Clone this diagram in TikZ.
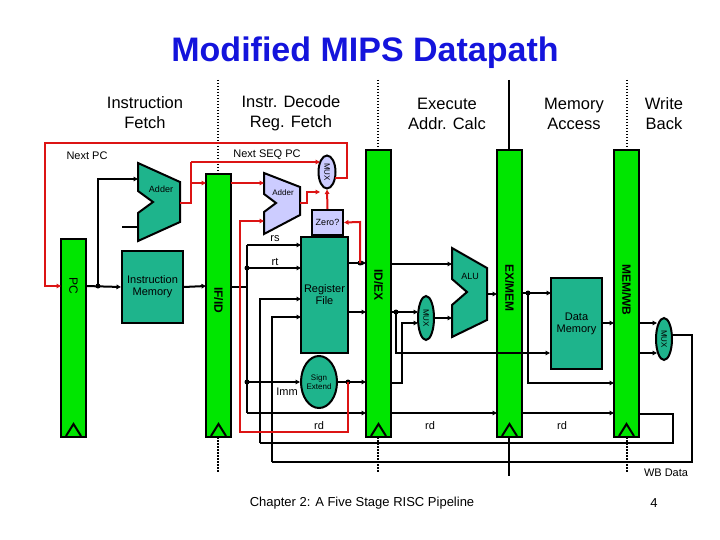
\documentclass[tikz,border=0pt]{standalone}
\usepackage{fontspec}
\setmainfont{Liberation Sans}
\usetikzlibrary{shapes.geometric,arrows.meta}
\definecolor{reg}{RGB}{0,230,0}
\definecolor{teal}{RGB}{30,180,140}
\definecolor{lav}{RGB}{204,204,255}
\definecolor{ttl}{RGB}{20,20,220}
\definecolor{rd}{RGB}{220,20,20}
\begin{document}
\begin{tikzpicture}[x=1pt,y=-1pt,
  w/.style={line width=2pt,black},
  r/.style={line width=2pt,rd},
  a/.style={-{Triangle[length=4.5pt,width=4.5pt]}},
  pr/.style={draw,line width=2pt,fill=reg},
  box/.style={draw,line width=2pt,fill=teal,inner sep=0pt,font=\fontsize{11}{12}\selectfont,align=center},
  mux/.style={ellipse,draw,line width=2pt,inner sep=0pt,font=\fontsize{8}{9}\selectfont},
  lbl/.style={font=\fontsize{11}{12}\selectfont,inner sep=0pt},
  stage/.style={font=\fontsize{16.5}{20}\selectfont,align=center},
  dots/.style={line width=2pt,dash pattern=on 1.5pt off 1.5pt}]
\useasboundingbox (0,0) rectangle (720,540);
\node[font=\bfseries\fontsize{34}{38}\selectfont,text=ttl] (title) at (365,53) {Modified MIPS Datapath};
\node[stage] (s1) at (145,113) {Instruction\\Fetch};
\node[stage] (s2) at (291,113) {Instr. Decode\\Reg. Fetch};
\node[stage] (s3) at (447,114) {Execute\\Addr. Calc};
\node[stage] (s4) at (574,114) {Memory\\Access};
\node[stage] (s5) at (664,114) {Write\\Back};
% stage separators
\draw[dots] (218,80) -- (218,472);
\draw[dots] (378,80) -- (378,472);
\draw[line width=2pt] (509,80) -- (509,476);
\draw[dots] (627,80) -- (627,472);
% pipeline registers
\foreach \xa/\ya in {61/239, 206/174, 366/150, 497/150, 614/150}{
  \draw[pr] (\xa,\ya) rectangle (\xa+25,437);
  \draw[line width=2pt] (\xa+5,436) -- (\xa+12.5,424) -- (\xa+20,436);
}
\node[rotate=-90,font=\fontsize{12}{12}\selectfont] (lpc) at (73.5,286) {PC};
\node[rotate=-90,font=\bfseries\fontsize{12}{12}\selectfont] (lifid) at (218.5,300) {IF/ID};
\node[rotate=-90,font=\bfseries\fontsize{12}{12}\selectfont] (lidex) at (378.5,285) {ID/EX};
\node[rotate=-90,font=\bfseries\fontsize{12}{12}\selectfont] (lexmem) at (509.5,288) {EX/MEM};
\node[rotate=-90,font=\bfseries\fontsize{12}{12}\selectfont] (lmemwb) at (626.5,290) {MEM/WB};
% units
\node[box,minimum width=61pt,minimum height=72pt] (im) at (152.5,287) {Instruction\\Memory};
\node[box,minimum width=47pt,minimum height=116pt] (rf) at (324.5,295) {Register\\File};
\node[box,minimum width=51pt,minimum height=91pt] (dm) at (576.5,323.5) {Data\\Memory};
\node[box,fill=lav,minimum width=31pt,minimum height=25pt,font=\fontsize{9}{10}\selectfont] (zero) at (327.5,222.5) {Zero?};
\node[mux,fill=teal,minimum width=36pt,minimum height=52pt,align=center] (se) at (319,382) {Sign\\Extend};
\node[mux,fill=lav,minimum width=17pt,minimum height=33pt] (m1) at (327,172) {\rotatebox{-90}{MUX}};
\node[mux,fill=teal,minimum width=16pt,minimum height=44pt] (m2) at (426,318) {\rotatebox{-90}{MUX}};
\node[mux,fill=teal,minimum width=16pt,minimum height=42pt] (m3) at (664,339) {\rotatebox{-90}{MUX}};
% adders & ALU
\draw[line width=2pt,fill=teal] (138,163) -- (180,182) -- (180,222) -- (138,241) -- (138,213) -- (153,202) -- (138,191) -- cycle;
\node[font=\fontsize{9}{10}\selectfont] (add1) at (161,189) {Adder};
\draw[line width=2pt,fill=lav] (264,173) -- (300,187) -- (300,215) -- (264,234) -- (264,212) -- (276,203) -- (264,194) -- cycle;
\node[font=\fontsize{8}{9}\selectfont] (add2) at (283,193) {Adder};
\draw[line width=2pt,fill=teal] (452,248) -- (487,268) -- (487,320) -- (452,337) -- (452,305) -- (467,292) -- (452,279) -- cycle;
\node[font=\fontsize{9}{10}\selectfont] (alu) at (470,276) {ALU};
% IF wires
\draw[w,a] (86,286) -- (im.west);
\draw[w,a] (98,286) -- (98,179) -- (138,179);
\fill (98,286) circle (2.5pt);
\draw[w] (122,227) -- (138,227);
\draw[w,a] (im.east) -- (206,286);
% ID wires
\draw[w] (231,287) -- (247,287);
\draw[w] (247,245) -- (247,413);
\draw[w,a] (247,245) -- (301,245);
\draw[w,a] (247,268) -- (301,268);
\draw[w,a] (247,382) -- (se.west);
\draw[w,a] (247,413) -- (366,413);
\fill (247,268) circle (2.5pt) (247,382) circle (2.5pt);
\draw[w,a] (260,443) -- (260,299) -- (301,299);
\draw[w,a] (272,462) -- (272,317) -- (301,317);
\draw[w,a] (348,263) -- (366,263);
\draw[w,a] (348,312) -- (366,312);
\draw[w,a] (se.east) -- (366,382);
\fill (360,263) circle (2.5pt) (348,382) circle (2.5pt);
% EX wires
\draw[w,a] (391,264) -- (452,264);
\draw[w,a] (391,312) -- (418,312);
\fill (396,312) circle (2.5pt);
\draw[w,a] (396,312) -- (396,353) -- (dm.west |- 0,353);
\draw[w,a] (391,383) -- (402,383) -- (402,323) -- (418,323);
\draw[w,a] (434,318) -- (452,318);
\draw[w,a] (487,294) -- (497,294);
\draw[w,a] (391,413) -- (497,413);
% MEM wires
\draw[w,a] (522,293) -- (551,293);
\fill (528,293) circle (2.5pt);
\draw[w,a] (528,293) -- (528,383) -- (614,383);
\draw[w,a] (dm.east |- 0,323) -- (614,323);
\draw[w,a] (522,413) -- (614,413);
% WB wires
\draw[w,a] (639,323) -- (657,323);
\draw[w,a] (639,353) -- (657,353);
\draw[w] (639,414) -- (673,414) -- (673,443) -- (260,443);
\draw[w] (672,335) -- (692,335) -- (692,462) -- (272,462);
% red wires
\draw[r] (180,203) -- (191,203) -- (191,162);
\draw[r,a] (191,162) -- (320,162);
\draw[r,a] (191,183) -- (206,183);
\draw[r,a] (231,183) -- (264,183);
\draw[r,a] (300,203) -- (307,203) -- (307,192) -- (320,192);
\draw[r,a] (zero.north) -- (m1.south);
\draw[r,a] (360,263) -- (360,222) -- (zero.east);
\draw[r,a] (335,178) -- (347,178) -- (347,143) -- (45,143) -- (45,286) -- (61,286);
\draw[r,a] (348,382) -- (348,432) -- (240,432) -- (240,221) -- (264,221);
% labels
\node[lbl] (l1) at (87,156) {Next PC};
\node[lbl] (l2) at (267,155) {Next SEQ PC};
\node[lbl] (l3) at (275,239) {rs};
\node[lbl] (l4) at (275,262) {rt};
\node[lbl] (l5) at (287,392) {Imm};
\node[lbl] (l6) at (319,426) {rd};
\node[lbl] (l7) at (430,426) {rd};
\node[lbl] (l8) at (562,426) {rd};
\node[lbl] (l9) at (666,473) {WB Data};
\node[font=\fontsize{13}{14}\selectfont] (foot) at (362,503) {Chapter 2: A Five Stage RISC Pipeline};
\node[font=\fontsize{13}{14}\selectfont] (pg) at (654,503) {4};
\end{tikzpicture}
\end{document}
